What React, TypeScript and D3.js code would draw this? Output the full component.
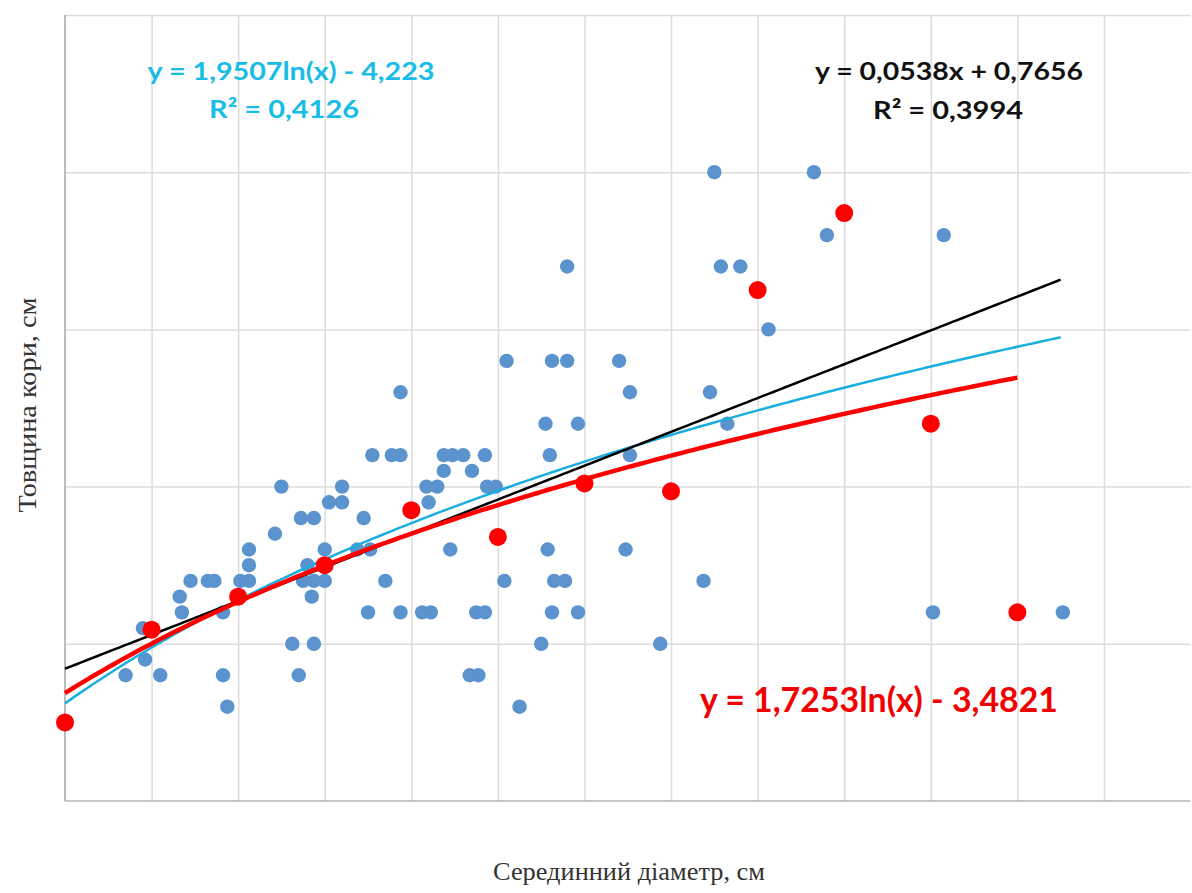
import { useEffect, useRef } from "react";
import * as d3 from "d3";

// Individual trees: median diameter (cm) and bark thickness (cm)
const blueX = [
  50.0, 54.6,
  55.2, 60.6,
  43.2, 50.3, 51.2,
  52.5,
  40.4, 42.5, 43.2, 45.6,
  35.5, 46.1, 49.8,
  42.2, 43.7, 50.6,
  34.2, 35.1, 35.5, 37.5, 37.9, 38.4, 39.4, 42.4, 46.1,
  37.5, 38.8,
  30.0, 32.8, 36.7, 37.2, 39.5, 39.9,
  32.2, 32.8, 36.8,
  30.9, 31.5, 33.8,
  29.7,
  28.5, 32.0, 33.5, 34.1, 37.8, 42.3, 45.9,
  28.5, 31.2,
  25.8, 26.6, 26.9, 28.1, 28.5, 31.0, 31.5, 32.0, 34.8, 40.3, 42.6, 43.1, 49.5,
  25.3, 31.4,
  25.4, 27.3, 34.0, 35.5, 36.5, 36.9, 39.0, 39.4, 42.5, 43.7, 60.1, 66.1,
  23.6,
  30.5, 31.5, 42.0, 47.5,
  23.7,
  22.8, 24.4, 27.3, 30.8, 38.7, 39.1,
  27.5, 41.0,
];
const blueY = [
  5.0, 5.0,
  4.6, 4.6,
  4.4, 4.4, 4.4,
  4.0,
  3.8, 3.8, 3.8, 3.8,
  3.6, 3.6, 3.6,
  3.4, 3.4, 3.4,
  3.2, 3.2, 3.2, 3.2, 3.2, 3.2, 3.2, 3.2, 3.2,
  3.1, 3.1,
  3.0, 3.0, 3.0, 3.0, 3.0, 3.0,
  2.9, 2.9, 2.9,
  2.8, 2.8, 2.8,
  2.7,
  2.6, 2.6, 2.6, 2.6, 2.6, 2.6, 2.6,
  2.5, 2.5,
  2.4, 2.4, 2.4, 2.4, 2.4, 2.4, 2.4, 2.4, 2.4, 2.4, 2.4, 2.4, 2.4,
  2.3, 2.3,
  2.2, 2.2, 2.2, 2.2, 2.2, 2.2, 2.2, 2.2, 2.2, 2.2, 2.2, 2.2,
  2.1,
  2.0, 2.0, 2.0, 2.0,
  1.9,
  1.8, 1.8, 1.8, 1.8, 1.8, 1.8,
  1.6, 1.6,
];

// Diameter class means
const redX = [20, 24, 28, 32, 36, 40, 44, 48, 52, 56, 60, 64];
const redY = [1.5, 2.09, 2.3, 2.5, 2.85, 2.68, 3.02, 2.97, 4.25, 4.74, 3.4, 2.2];

// Trendline coefficients as printed on the chart
const linCoef = [0.0538, 0.7656];
const cyanLogCoef = [1.9507, -4.223];
const redLogCoef = [1.7253, -3.4821];

const xTicks = [20, 24, 28, 32, 36, 40, 44, 48, 52, 56, 60, 64, 68];
const yTicks = [1, 2, 3, 4, 5, 6];

export default function App() {
  const svgRef = useRef<SVGSVGElement | null>(null);

  useEffect(() => {
    if (!svgRef.current) return;
    const svg = d3.select(svgRef.current);
    svg.selectAll("*").remove();

    const left = 65;
    const top = 15;
    const bottom = 801;
    const x = d3.scaleLinear().domain([20, 72]).range([left, left + 52 * 21.645]);
    const y = d3.scaleLinear().domain([1, 6]).range([bottom, top]);

    // gridlines
    svg.append("g")
      .attr("transform", `translate(0,${bottom})`)
      .call(d3.axisBottom(x).tickValues(xTicks.slice(1)).tickSize(-(bottom - top)).tickFormat(() => ""))
      .call((g) => g.select(".domain").remove())
      .selectAll("line")
      .attr("stroke", "#dcdcdc")
      .attr("stroke-width", 1.5);

    svg.append("g")
      .attr("transform", `translate(${left},0)`)
      .call(d3.axisLeft(y).tickValues(yTicks.slice(1)).tickSize(-(x.range()[1] - left)).tickFormat(() => ""))
      .call((g) => g.select(".domain").remove())
      .selectAll("line")
      .attr("stroke", "#dcdcdc")
      .attr("stroke-width", 1.5);

    // axis lines
    svg.append("line")
      .attr("x1", left).attr("x2", left).attr("y1", top).attr("y2", bottom)
      .attr("stroke", "#a6a6a6").attr("stroke-width", 1.5);
    svg.append("line")
      .attr("x1", left).attr("x2", x.range()[1]).attr("y1", bottom).attr("y2", bottom)
      .attr("stroke", "#b4b4b4").attr("stroke-width", 1.5);

    // blue points
    svg.append("g")
      .selectAll("circle")
      .data(d3.range(blueX.length))
      .join("circle")
      .attr("cx", (i) => x(blueX[i]))
      .attr("cy", (i) => y(blueY[i]))
      .attr("r", 7.2)
      .attr("fill", "#5b93cf");

    // trend lines
    const xs = d3.range(20, 66.01, 0.25);
    const xsRed = d3.range(20, 64.01, 0.25);
    const line = d3.line<number[]>().x((d) => x(d[0])).y((d) => y(d[1]));

    svg.append("path")
      .attr("d", line(xs.map((v) => [v, cyanLogCoef[0] * Math.log(v) + cyanLogCoef[1]])))
      .attr("fill", "none")
      .attr("stroke", "#19aee0")
      .attr("stroke-width", 2.5);

    svg.append("path")
      .attr("d", line(xs.map((v) => [v, linCoef[0] * v + linCoef[1]])))
      .attr("fill", "none")
      .attr("stroke", "#000")
      .attr("stroke-width", 2.5);

    svg.append("path")
      .attr("d", line(xsRed.map((v) => [v, redLogCoef[0] * Math.log(v) + redLogCoef[1]])))
      .attr("fill", "none")
      .attr("stroke", "#ff0000")
      .attr("stroke-width", 4.5);

    // red points
    svg.append("g")
      .selectAll("circle")
      .data(d3.range(redX.length))
      .join("circle")
      .attr("cx", (i) => x(redX[i]))
      .attr("cy", (i) => y(redY[i]))
      .attr("r", 9)
      .attr("fill", "#ff0000");

    // equations
    const eq = (t: string, cx: number, cy: number, fill: string, size: number, len: number) =>
      svg.append("text")
        .attr("x", cx)
        .attr("y", cy)
        .attr("text-anchor", "middle")
        .attr("font-family", "Lato, 'Open Sans', sans-serif")
        .attr("font-weight", 700)
        .attr("font-size", size)
        .attr("fill", fill)
        .attr("textLength", len)
        .attr("lengthAdjust", "spacingAndGlyphs")
        .text(t);

    eq("y = 1,9507ln(x) - 4,223", 291, 80, "#17bde6", 25, 287);
    eq("R² = 0,4126", 284, 118, "#17bde6", 25, 150);
    eq("y = 0,0538x + 0,7656", 949, 80, "#111", 25, 268);
    eq("R² = 0,3994", 948, 119, "#111", 25, 150);
    eq("y = 1,7253ln(x) - 3,4821", 879, 712, "#f00000", 35, 358);

    // axis titles
    svg.append("text")
      .attr("transform", `translate(36,405) rotate(-90)`)
      .attr("text-anchor", "middle")
      .attr("font-family", "'Liberation Serif', 'DejaVu Serif', serif")
      .attr("font-size", 25)
      .attr("fill", "#333")
      .attr("textLength", 215)
      .attr("lengthAdjust", "spacingAndGlyphs")
      .text("Товщина кори, см");

    svg.append("text")
      .attr("x", 629)
      .attr("y", 880)
      .attr("text-anchor", "middle")
      .attr("font-family", "'Liberation Serif', 'DejaVu Serif', serif")
      .attr("font-size", 25)
      .attr("fill", "#333")
      .attr("textLength", 272)
      .attr("lengthAdjust", "spacingAndGlyphs")
      .text("Серединний діаметр, см");
  }, []);

  return (
    <svg
      ref={svgRef}
      width={1192}
      height={893}
      style={{ position: "absolute", left: 0, top: 0, background: "#fff" }}
    />
  );
}
